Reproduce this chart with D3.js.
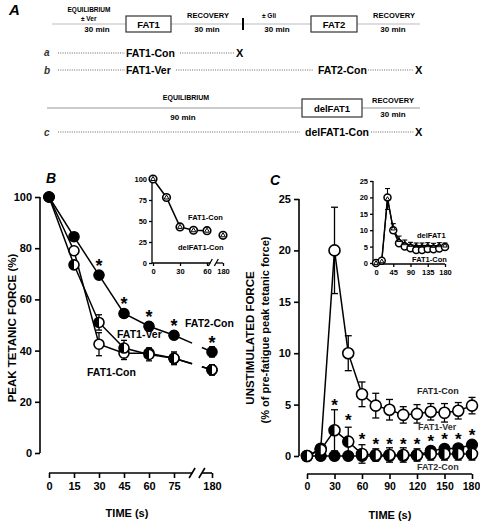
<!DOCTYPE html>
<html><head><meta charset="utf-8">
<script src="https://cdn.jsdelivr.net/npm/d3@7"></script>
<style>body{margin:0;background:#fff} svg{display:block} text{font-family:Arial,"Liberation Sans",sans-serif;font-weight:bold}</style>
</head><body><svg id="c" width="480" height="522"></svg>
<script>
// ---------- Panel B (peak tetanic force) ----------
const bTimes = [0, 15, 30, 45, 60, 75, 180];
const bFat2Con = [100, 84.5, 69.5, 54.5, 49.5, 46, 39.5];
const bFat2ConErr = [0, 1.5, 1.5, 1.5, 1.5, 1.5, 2];
const bFat1Con = [100, 79, 42.5, 39, 39, 37, 32.5];
const bFat1ConErr = [0, 1.5, 4.5, 2.5, 2, 2, 2];
const bFat1Ver = [100, 73.5, 51, 41, 38.5, 37, 32.5];
const bFat1VerErr = [0, 1.5, 3, 3, 2.5, 2.5, 2];
const bStarTimes = [30, 45, 60, 75, 180];
const bTickX = [0, 15, 30, 45, 60, 75, 180];
const bTickY = [0, 20, 40, 60, 80, 100];
const bBreak = [125, 152];
// inset B
const ibTimes = [0, 15, 30, 45, 60, 180];
const ibFat1Con = [100, 78, 43, 39, 38.5, 33];
const ibDelFat1Con = [100, 78, 43, 39, 38.5, 33];
const ibTickX = [0, 30, 60, 180];
const ibTickY = [0, 25, 50, 75, 100];
// ---------- Panel C (unstimulated force) ----------
const cTimes = [0, 15, 30, 45, 60, 75, 90, 105, 120, 135, 150, 165, 180];
const cFat1Con = [0, 0.7, 20, 10, 6, 4.9, 4.5, 4.0, 4.1, 4.3, 4.2, 4.4, 4.9];
const cFat1ConErr = [0, 0.3, 4.2, 1.7, 1.2, 1.2, 1.0, 0.8, 0.9, 0.8, 0.9, 0.8, 0.8];
const cFat1Ver = [0, 0.6, 2.5, 1.4, 0.2, 0.1, 0.1, 0.1, 0.1, 0.2, 0.2, 0.2, 0.2];
const cFat1VerErr = [0, 0.2, 2.0, 1.4, 0.9, 0.6, 0.7, 0.7, 0.6, 0.6, 0.6, 0.6, 0.6];
const cFat2Con = [0, 0, 0, 0, 0, 0, 0, 0, 0.05, 0.5, 0.7, 0.75, 1.1];
const cFat2ConErr = [0, 0, 0, 0, 0, 0, 0, 0, 0.1, 0.2, 0.2, 0.2, 0.2];
const cStarTimes = [30, 45, 60, 75, 90, 105, 120, 135, 150, 165, 180];
const cStarVals = [5.2, 3.7, 1.8, 1.4, 1.4, 1.4, 1.4, 1.7, 1.8, 1.8, 2.2];
const cTickX = [0, 30, 60, 90, 120, 150, 180];
const cTickY = [0, 5, 10, 15, 20, 25];
// inset C
const icFat1Con = [0, 0.7, 20, 10, 6, 5, 4.5, 4, 4, 4.3, 4.2, 4.4, 4.9];
const icDelFat1 = [0, 0.5, 19.5, 10.5, 7, 6, 5.5, 5.3, 5.3, 5.4, 5.2, 5.4, 5.3];
const icDelFat1Err = [0, 0.3, 3.2, 1.5, 1.2, 1, 0.8, 0.8, 0.8, 0.8, 0.8, 0.8, 0.8];
const icTickX = [0, 45, 90, 135, 180];
const icTickY = [0, 5, 10, 15, 20, 25];

const svg = d3.select("#c");

// ---------- helpers ----------
function errBars(g, x, y, t, v, e, cap, sw) {
  t.forEach((ti, i) => {
    if (!e[i]) return;
    const cx = x(ti);
    g.append("line").attr("x1", cx).attr("x2", cx).attr("y1", y(v[i] - e[i])).attr("y2", y(v[i] + e[i]))
      .attr("stroke", "#000").attr("stroke-width", sw);
    [v[i] - e[i], v[i] + e[i]].forEach(val => g.append("line").attr("x1", cx - cap).attr("x2", cx + cap)
      .attr("y1", y(val)).attr("y2", y(val)).attr("stroke", "#000").attr("stroke-width", sw));
  });
}
function markers(g, x, y, t, v, type, r, sw) {
  t.forEach((ti, i) => {
    const cx = x(ti), cy = y(v[i]);
    if (type === "tri") {
      const s = r * 0.9;
      g.append("path").attr("d", `M${cx},${cy - s}L${cx + s * 0.95},${cy + s * 0.6}L${cx - s * 0.95},${cy + s * 0.6}Z`)
        .attr("fill", "none").attr("stroke", "#000").attr("stroke-width", sw);
      return;
    }
    g.append("circle").attr("cx", cx).attr("cy", cy).attr("r", r)
      .attr("fill", type === "filled" ? "#000" : "#fff").attr("stroke", "#000").attr("stroke-width", sw);
    if (type === "half") {
      const arc = d3.arc()({innerRadius: 0, outerRadius: r, startAngle: Math.PI, endAngle: 2 * Math.PI});
      g.append("path").attr("d", arc).attr("transform", `translate(${cx},${cy})`).attr("fill", "#000");
    }
  });
}
function star(g, cx, cy, size) {
  g.append("text").attr("x", cx).attr("y", cy).attr("text-anchor", "middle")
    .attr("font-size", size).text("*");
}
function label(g, x, y, txt, size, fill, anchor) {
  return g.append("text").attr("x", x).attr("y", y).attr("font-size", size)
    .attr("fill", fill || "#000").attr("text-anchor", anchor || "start").text(txt);
}
function styleAxis(a, fs, sw) {
  a.selectAll("path").remove();
  a.selectAll("line").attr("stroke", "#000").attr("stroke-width", sw);
  a.selectAll("text").attr("font-size", fs).attr("font-family", "Arial, 'Liberation Sans', sans-serif").attr("font-weight", "bold").attr("fill", "#000");
}

// ---------- Panel A (schematic) ----------
const gA = svg.append("g");
label(gA, 9, 15, "A", 15, "#000").attr("font-style", "italic").attr("font-weight", "normal");
// line 1
gA.append("line").attr("x1", 52).attr("x2", 420).attr("y1", 24).attr("y2", 24).attr("stroke", "#bbb").attr("stroke-width", 1);
[[126, 171, "FAT1"], [311, 357, "FAT2"]].forEach(([x1, x2, t]) => {
  gA.append("rect").attr("x", x1).attr("y", 16).attr("width", x2 - x1).attr("height", 16).attr("fill", "#fff").attr("stroke", "#333").attr("stroke-width", 1.2);
  label(gA, (x1 + x2) / 2, 28, t, 9.5, "#000", "middle");
});
gA.append("line").attr("x1", 243).attr("x2", 243).attr("y1", 18).attr("y2", 30).attr("stroke", "#000").attr("stroke-width", 2);
label(gA, 89, 12, "EQUILIBRIUM", 6.5, "#000", "middle");
label(gA, 81, 21, "± Ver", 6.5);
label(gA, 97, 32, "30 min", 8, "#000", "middle");
label(gA, 208, 18, "RECOVERY", 7.5, "#000", "middle");
label(gA, 207, 32, "30 min", 8, "#000", "middle");
label(gA, 262, 18, "± Gli", 6.5);
label(gA, 277, 32, "30 min", 8, "#000", "middle");
label(gA, 394, 18, "RECOVERY", 7.5, "#000", "middle");
label(gA, 393, 32, "30 min", 8, "#000", "middle");
// rows a, b
function dots(x1, x2, y) {
  gA.append("line").attr("x1", x1).attr("x2", x2).attr("y1", y).attr("y2", y).attr("stroke", "#555")
    .attr("stroke-width", 0.9).attr("stroke-dasharray", "1,1.3");
}
label(gA, 44, 56, "a", 10, "#333").attr("font-style", "italic").attr("font-weight", "normal");
dots(58, 125, 53); label(gA, 126, 57, "FAT1-Con", 10.5); dots(180, 235, 53); label(gA, 236, 57, "X", 11);
label(gA, 44, 74, "b", 10, "#333").attr("font-style", "italic").attr("font-weight", "normal");
dots(58, 125, 70); label(gA, 126, 74, "FAT1-Ver", 10.5); dots(176, 313, 70); label(gA, 318, 74, "FAT2-Con", 10.5); dots(368, 414, 70); label(gA, 415, 74, "X", 11);
// line 2
gA.append("line").attr("x1", 47).attr("x2", 420).attr("y1", 108).attr("y2", 108).attr("stroke", "#999").attr("stroke-width", 1.2);
gA.append("rect").attr("x", 302).attr("y", 99).attr("width", 60).attr("height", 18).attr("fill", "#fff").attr("stroke", "#333").attr("stroke-width", 1.2);
label(gA, 332, 112, "delFAT1", 9.5, "#000", "middle");
label(gA, 186, 100, "EQUILIBRIUM", 7, "#000", "middle");
label(gA, 183, 120, "90 min", 8, "#000", "middle");
label(gA, 393, 103, "RECOVERY", 7.5, "#000", "middle");
label(gA, 393, 117, "30 min", 8, "#000", "middle");
label(gA, 44, 136, "c", 10, "#333").attr("font-style", "italic").attr("font-weight", "normal");
dots(58, 300, 132); label(gA, 305, 136, "delFAT1-Con", 10.5); dots(371, 414, 132); label(gA, 415, 136, "X", 11);

// ---------- Panel B ----------
const gB = svg.append("g");
const xB = d3.scaleLinear().domain([0, 75, 180]).range([49, 174, 212]);
const yB = d3.scaleLinear().domain([0, 100]).range([453, 197]);
label(gB, 46, 183, "B", 14, "#000").attr("font-style", "italic").attr("font-weight", "normal");
const ayB = gB.append("g").attr("transform", "translate(40,0)").call(d3.axisLeft(yB).tickValues(bTickY).tickSize(5).tickPadding(3));
styleAxis(ayB, 11, 1.6);
gB.append("line").attr("x1", 40).attr("x2", 40).attr("y1", yB(100)).attr("y2", yB(0)).attr("stroke", "#000").attr("stroke-width", 1.6);
const axB = gB.append("g").attr("transform", "translate(0,473)").call(d3.axisBottom(xB).tickValues(bTickX).tickSize(5).tickPadding(4).tickFormat(d3.format("d")));
styleAxis(axB, 11, 1.6);
gB.append("line").attr("x1", xB(0)).attr("x2", xB(bBreak[0])).attr("y1", 473).attr("y2", 473).attr("stroke", "#000").attr("stroke-width", 1.6);
gB.append("line").attr("x1", xB(bBreak[1])).attr("x2", xB(180)).attr("y1", 473).attr("y2", 473).attr("stroke", "#000").attr("stroke-width", 1.6);
bBreak.forEach(t => gB.append("line").attr("x1", xB(t) - 3).attr("x2", xB(t) + 3).attr("y1", 478).attr("y2", 468).attr("stroke", "#000").attr("stroke-width", 1.6));
label(gB, 127, 517, "TIME (s)", 11, "#000", "middle");
label(gB, 0, 0, "PEAK TETANIC FORCE (%)", 11.5, "#000", "middle").attr("transform", "translate(16,328) rotate(-90)");

function brokenLine(g, x, y, t, v, sw) {
  const n = t.length - 1;
  const main = t.slice(0, n).map((ti, i) => [x(ti), y(v[i])]);
  const f = d3.interpolateNumber(v[n - 1], v[n]);
  const fr = tt => (tt - t[n - 1]) / (t[n] - t[n - 1]);
  main.push([x(bBreak[0]), y(f(fr(bBreak[0])))]);
  g.append("path").attr("d", d3.line()(main)).attr("fill", "none").attr("stroke", "#000").attr("stroke-width", sw);
  g.append("path").attr("d", d3.line()([[x(bBreak[1]), y(f(fr(bBreak[1])))], [x(t[n]), y(v[n])]]))
    .attr("fill", "none").attr("stroke", "#000").attr("stroke-width", sw);
}
brokenLine(gB, xB, yB, bTimes, bFat1Con, 1.5);
brokenLine(gB, xB, yB, bTimes, bFat1Ver, 1.5);
brokenLine(gB, xB, yB, bTimes, bFat2Con, 1.5);
errBars(gB, xB, yB, bTimes, bFat1Con, bFat1ConErr, 3, 1.3);
errBars(gB, xB, yB, bTimes, bFat1Ver, bFat1VerErr, 3, 1.3);
errBars(gB, xB, yB, bTimes, bFat2Con, bFat2ConErr, 3, 1.3);
markers(gB, xB, yB, bTimes, bFat1Con, "open", 5, 1.6);
markers(gB, xB, yB, bTimes, bFat1Ver, "half", 5, 1.6);
markers(gB, xB, yB, bTimes, bFat2Con, "filled", 5.2, 1.2);
bStarTimes.forEach(t => star(gB, xB(t), yB(bFat2Con[bTimes.indexOf(t)]) - 3, 18));
label(gB, 185, 327, "FAT2-Con", 10.5);
label(gB, 117, 338, "FAT1-Ver", 10.5);
label(gB, 87, 376, "FAT1-Con", 10.5);

// inset B
const xIB = d3.scaleLinear().domain([0, 60, 180]).range([153, 207, 223]);
const yIB = d3.scaleLinear().domain([0, 100]).range([263, 179]);
const ayIB = gB.append("g").attr("transform", "translate(152,0)").call(d3.axisLeft(yIB).tickValues(ibTickY).tickSize(3).tickPadding(2));
styleAxis(ayIB, 7.5, 1.3);
gB.append("line").attr("x1", 152).attr("x2", 152).attr("y1", yIB(100)).attr("y2", yIB(0)).attr("stroke", "#000").attr("stroke-width", 1.3);
const axIB = gB.append("g").attr("transform", "translate(0,263)").call(d3.axisBottom(xIB).tickValues(ibTickX).tickSize(3).tickPadding(3));
styleAxis(axIB, 7.5, 1.3);
gB.append("line").attr("x1", 152).attr("x2", xIB(85)).attr("y1", 263).attr("y2", 263).attr("stroke", "#000").attr("stroke-width", 1.3);
gB.append("line").attr("x1", xIB(130)).attr("x2", xIB(180)).attr("y1", 263).attr("y2", 263).attr("stroke", "#000").attr("stroke-width", 1.3);
[85, 130].forEach(t => gB.append("line").attr("x1", xIB(t) - 2).attr("x2", xIB(t) + 2).attr("y1", 266).attr("y2", 259).attr("stroke", "#000").attr("stroke-width", 1.3));
gB.append("path").attr("d", d3.line()(ibTimes.slice(0, 5).map((t, i) => [xIB(t), yIB(ibFat1Con[i])])))
  .attr("fill", "none").attr("stroke", "#000").attr("stroke-width", 1.5);
markers(gB, xIB, yIB, ibTimes, ibFat1Con, "open", 3.8, 1.6);
markers(gB, xIB, yIB, ibTimes, ibDelFat1Con, "tri", 2.8, 1);
label(gB, 188, 220, "FAT1-Con", 7.5);
label(gB, 178, 250, "delFAT1-Con", 7.5);

// ---------- Panel C ----------
const gC = svg.append("g");
const xC = d3.scaleLinear().domain([0, 180]).range([307, 472]);
const yC = d3.scaleLinear().domain([0, 25]).range([456, 199]);
label(gC, 270, 185, "C", 14, "#000").attr("font-style", "italic").attr("font-weight", "normal");
const ayC = gC.append("g").attr("transform", "translate(299,0)").call(d3.axisLeft(yC).tickValues(cTickY).tickSize(5).tickPadding(3));
styleAxis(ayC, 11, 1.6);
gC.append("line").attr("x1", 299).attr("x2", 299).attr("y1", yC(25)).attr("y2", yC(0)).attr("stroke", "#000").attr("stroke-width", 1.6);
const axC = gC.append("g").attr("transform", "translate(0,474)").call(d3.axisBottom(xC).tickValues(cTickX).tickSize(5).tickPadding(4));
styleAxis(axC, 10.5, 1.6);
axC.selectAll(".tick:last-of-type text").attr("dx", -1);
gC.append("line").attr("x1", xC(0)).attr("x2", xC(180)).attr("y1", 474).attr("y2", 474).attr("stroke", "#000").attr("stroke-width", 1.6);
label(gC, 390, 519, "TIME (s)", 11, "#000", "middle");
label(gC, 0, 0, "UNSTIMULATED FORCE", 11.5, "#000", "middle").attr("transform", "translate(254,338) rotate(-90)");
label(gC, 0, 0, "(% of pre-fatigue peak tetanic force)", 11, "#000", "middle").attr("transform", "translate(269,330) rotate(-90)");

function line(g, x, y, t, v, sw) {
  g.append("path").attr("d", d3.line()(t.map((ti, i) => [x(ti), y(v[i])]))).attr("fill", "none").attr("stroke", "#000").attr("stroke-width", sw);
}
line(gC, xC, yC, cTimes, cFat1Con, 1.5);
line(gC, xC, yC, cTimes, cFat1Ver, 1.5);
line(gC, xC, yC, cTimes, cFat2Con, 1.5);
errBars(gC, xC, yC, cTimes, cFat1Con, cFat1ConErr, 3.5, 1.3);
errBars(gC, xC, yC, cTimes, cFat1Ver, cFat1VerErr, 3.5, 1.3);
errBars(gC, xC, yC, cTimes, cFat2Con, cFat2ConErr, 3.5, 1.3);
markers(gC, xC, yC, cTimes, cFat1Con, "open", 5.5, 1.6);
markers(gC, xC, yC, cTimes, cFat2Con, "filled", 5.5, 1.2);
markers(gC, xC, yC, cTimes, cFat1Ver, "half", 5.5, 1.6);
cStarTimes.forEach((t, i) => star(gC, xC(t), yC(cStarVals[i]) + 8, 17));
label(gC, 417, 394, "FAT1-Con", 9, "#222");
label(gC, 418, 430, "FAT1-Ver", 9, "#333");
label(gC, 417, 470, "FAT2-Con", 9, "#333");

// inset C
const xIC = d3.scaleLinear().domain([0, 180]).range([376, 445]);
const yIC = d3.scaleLinear().domain([0, 25]).range([263, 181]);
const ayIC = gC.append("g").attr("transform", "translate(373,0)").call(d3.axisLeft(yIC).tickValues(icTickY).tickSize(3).tickPadding(2));
styleAxis(ayIC, 7.5, 1.3);
gC.append("line").attr("x1", 373).attr("x2", 373).attr("y1", yIC(25)).attr("y2", 264).attr("stroke", "#000").attr("stroke-width", 1.3);
const axIC = gC.append("g").attr("transform", "translate(0,264)").call(d3.axisBottom(xIC).tickValues(icTickX).tickSize(3).tickPadding(3));
styleAxis(axIC, 7.5, 1.3);
gC.append("line").attr("x1", 373).attr("x2", xIC(180)).attr("y1", 264).attr("y2", 264).attr("stroke", "#000").attr("stroke-width", 1.3);
line(gC, xIC, yIC, cTimes, icFat1Con, 1.4);
line(gC, xIC, yIC, cTimes, icDelFat1, 1.2);
errBars(gC, xIC, yIC, cTimes, icDelFat1, icDelFat1Err, 2.5, 1.1);
markers(gC, xIC, yIC, cTimes, icFat1Con, "open", 3.5, 1.5);
markers(gC, xIC, yIC, cTimes, icDelFat1, "tri", 2.6, 1);
label(gC, 417, 238, "delFAT1", 7.5);
label(gC, 412, 262, "FAT1-Con", 7.5);
</script></body></html>
